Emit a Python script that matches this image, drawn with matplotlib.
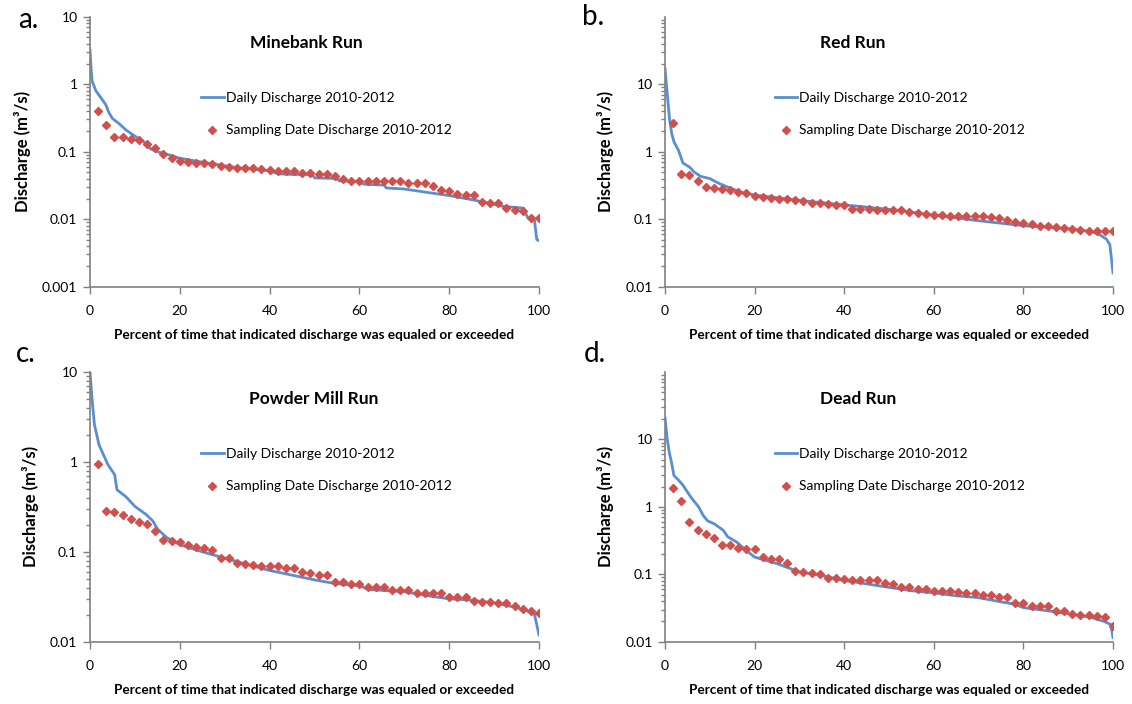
import numpy as np
import matplotlib
matplotlib.use('Agg')
import matplotlib.pyplot as plt
from matplotlib.ticker import FixedLocator, LogLocator, FuncFormatter, NullFormatter

plt.rcParams['font.family'] = ['Lato', 'DejaVu Sans']

# Daily flow duration curves (percent exceedance, discharge m3/s)
a_daily_x = [0, 0.3, 0.5, 1.3, 2.5, 3.5, 4.2, 5, 6.5, 8, 10, 12, 13.5, 15, 17.5, 20, 25, 32, 40, 42,
             45, 49.5, 50, 55, 55.5, 60, 61, 65.5, 66, 70, 75, 80, 85, 88, 92, 96.5, 97.5, 99, 99.5, 100]
a_daily_q = [3.2, 1.5, 1.1, 0.8, 0.62, 0.5, 0.38, 0.31, 0.26, 0.21, 0.17, 0.14, 0.11, 0.10, 0.09, 0.08,
             0.07, 0.059, 0.052, 0.047, 0.046, 0.046, 0.041, 0.040, 0.037, 0.036, 0.033, 0.032, 0.029,
             0.028, 0.025, 0.0224, 0.0195, 0.0178, 0.0155, 0.0146, 0.0105, 0.0095, 0.005, 0.0048]

b_daily_x = [0, 0.3, 1, 1.5, 2, 3, 4, 5.5, 6.5, 8, 10, 12, 14, 17, 20, 30, 40, 50, 60, 70, 80, 90, 95,
             97, 98.5, 99.3, 100]
b_daily_q = [17, 10, 3.1, 1.85, 1.4, 1.05, 0.68, 0.59, 0.5, 0.43, 0.40, 0.34, 0.30, 0.25, 0.228, 0.19,
             0.163, 0.14, 0.115, 0.095, 0.08, 0.072, 0.066, 0.059, 0.051, 0.042, 0.016]

c_daily_x = [0, 0.5, 1, 2, 3, 4, 5.5, 6, 8, 10, 12.5, 14, 15, 17, 20, 25, 30, 35, 40, 45, 50, 55, 60,
             62, 70, 76, 80, 85, 90, 95, 98, 99, 100]
c_daily_q = [10, 4.7, 2.58, 1.55, 1.2, 0.93, 0.72, 0.49, 0.41, 0.32, 0.26, 0.22, 0.18, 0.145, 0.12, 0.10,
             0.085, 0.0725, 0.062, 0.055, 0.0487, 0.044, 0.042, 0.038, 0.036, 0.032, 0.030, 0.029,
             0.027, 0.024, 0.0215, 0.020, 0.0119]

d_daily_x = [0, 0.5, 1, 1.5, 2, 3, 4, 5, 6, 7.5, 8.5, 9.5, 11, 13, 14, 16, 18, 20, 25, 30, 35, 40, 45,
             50, 55, 60, 65, 70, 75, 78, 80, 85, 90, 95, 98, 99.5, 100]
d_daily_q = [21, 10, 6.2, 4.4, 2.9, 2.5, 2.1, 1.66, 1.33, 1.0, 0.75, 0.62, 0.56, 0.45, 0.36, 0.30, 0.23,
             0.18, 0.144, 0.108, 0.096, 0.081, 0.072, 0.064, 0.057, 0.053, 0.048, 0.045, 0.039, 0.036,
             0.032, 0.029, 0.026, 0.023, 0.020, 0.018, 0.0115]

# Sampling date discharge, ranked high to low
a_samp = [0.40, 0.248, 0.164, 0.164, 0.155, 0.148, 0.128, 0.115, 0.094, 0.080, 0.074, 0.071, 0.068,
          0.068, 0.065, 0.062, 0.0595, 0.057, 0.057, 0.057, 0.056, 0.054, 0.051, 0.051, 0.051, 0.048,
          0.048, 0.046, 0.046, 0.043, 0.039, 0.037, 0.037, 0.037, 0.037, 0.037, 0.037, 0.037, 0.034,
          0.034, 0.034, 0.031, 0.0274, 0.0259, 0.0236, 0.0226, 0.0226, 0.0182, 0.0173, 0.0173, 0.0146,
          0.0136, 0.0132, 0.0103, 0.0103]
b_samp = [2.69, 0.464, 0.448, 0.369, 0.304, 0.29, 0.284, 0.271, 0.25, 0.245, 0.218, 0.211, 0.209, 0.2,
          0.2, 0.195, 0.188, 0.172, 0.172, 0.168, 0.164, 0.161, 0.143, 0.143, 0.141, 0.138, 0.137, 0.137,
          0.135, 0.126, 0.122, 0.118, 0.116, 0.115, 0.112, 0.112, 0.112, 0.11, 0.11, 0.108, 0.105, 0.097,
          0.0896, 0.0866, 0.0838, 0.08, 0.0784, 0.0764, 0.0747, 0.0722, 0.069, 0.0675, 0.0675, 0.0667,
          0.066]
c_samp = [0.948, 0.285, 0.274, 0.255, 0.23, 0.215, 0.204, 0.172, 0.134, 0.133, 0.129, 0.12, 0.113, 0.109,
          0.106, 0.086, 0.086, 0.075, 0.074, 0.0718, 0.0695, 0.069, 0.069, 0.066, 0.066, 0.060, 0.0575,
          0.0546, 0.0546, 0.046, 0.046, 0.0434, 0.0434, 0.0401, 0.0401, 0.0401, 0.0374, 0.0374, 0.0372,
          0.035, 0.035, 0.035, 0.035, 0.0318, 0.0318, 0.0318, 0.0287, 0.0277, 0.0275, 0.027, 0.027,
          0.0252, 0.0232, 0.0222, 0.0207]
d_samp = [1.91, 1.24, 0.596, 0.458, 0.40, 0.344, 0.274, 0.274, 0.248, 0.24, 0.24, 0.178, 0.17, 0.166,
          0.148, 0.111, 0.109, 0.104, 0.101, 0.0867, 0.0867, 0.085, 0.083, 0.083, 0.081, 0.081, 0.0747,
          0.0725, 0.065, 0.065, 0.060, 0.060, 0.057, 0.057, 0.057, 0.054, 0.0525, 0.052, 0.049, 0.049,
          0.046, 0.046, 0.0372, 0.0372, 0.0344, 0.0344, 0.0344, 0.029, 0.0284, 0.0261, 0.025, 0.0245,
          0.024, 0.0229, 0.0169]

titles = ['Minebank Run', 'Red Run', 'Powder Mill Run', 'Dead Run']
letters = ['a.', 'b.', 'c.', 'd.']
xticks = [0, 20, 40, 60, 80, 100]

BLUE = '#5a8fcf'
RED = '#d0504d'
AXC = '#808080'

W, H = 1132, 704
fig = plt.figure(figsize=(W / 100, H / 100), dpi=100)


def px_axes(left, top, right, bottom):
    return fig.add_axes([left / W, 1 - bottom / H, (right - left) / W, (bottom - top) / H])


def draw_panel(ax, dx, dq, samp, ylim, majors, title, title_pos, leg_pos):
    pct = 100.0 * np.arange(1, len(samp) + 1) / len(samp)
    ax.plot(dx, dq, color=BLUE, lw=2, label='Daily Discharge 2010-2012', zorder=2)
    ax.plot(pct, samp, ls='none', marker='D', ms=4.0, color=RED, mec=RED,
            label='Sampling Date Discharge 2010-2012', zorder=3)
    ax.set_yscale('log')
    ax.set_ylim(*ylim)
    ax.set_xlim(0, 100)
    ax.set_xticks(xticks)
    ax.yaxis.set_major_locator(FixedLocator(majors))
    ax.yaxis.set_minor_locator(LogLocator(base=10, subs=np.arange(2, 10)))
    ax.yaxis.set_major_formatter(FuncFormatter(lambda v, p: '%g' % v))
    ax.yaxis.set_minor_formatter(NullFormatter())
    for s in ['top', 'right']:
        ax.spines[s].set_visible(False)
    for s in ['left', 'bottom']:
        ax.spines[s].set_color(AXC)
        ax.spines[s].set_linewidth(1.2)
    ax.tick_params(axis='both', which='major', length=5, width=1, color=AXC, labelsize=10, pad=4)
    ax.tick_params(axis='y', which='minor', length=3, width=1, color=AXC)
    ax.tick_params(axis='x', pad=8)
    ax.set_ylabel('Discharge (m³/s)', fontsize=12, fontweight='bold', labelpad=8)
    ax.set_xlabel('Percent of time that indicated discharge was equaled or exceeded',
                  fontsize=9.8, fontweight='bold', labelpad=9)
    ax.text(title_pos[0], title_pos[1], title, transform=ax.transAxes, ha='center', va='center',
            fontsize=12.5, fontweight='bold')
    ax.legend(loc='upper left', bbox_to_anchor=leg_pos, frameon=False, fontsize=10,
              handlelength=1.6, handletextpad=0.15, labelspacing=1.45, borderpad=0, borderaxespad=0)


ax_a = px_axes(90, 16.7, 539, 286.7)
draw_panel(ax_a, a_daily_x, a_daily_q, a_samp, (0.001, 10), [0.001, 0.01, 0.1, 1, 10],
           titles[0], (0.481, 0.902), (0.248, 0.72))
ax_b = px_axes(665, 16.7, 1113, 286.7)
draw_panel(ax_b, b_daily_x, b_daily_q, b_samp, (0.01, 100), [0.01, 0.1, 1, 10],
           titles[1], (0.419, 0.902), (0.245, 0.72))
ax_c = px_axes(90, 372, 539, 641.7)
draw_panel(ax_c, c_daily_x, c_daily_q, c_samp, (0.01, 10), [0.01, 0.1, 1, 10],
           titles[2], (0.499, 0.9), (0.248, 0.717))
ax_d = px_axes(665, 372, 1113, 641.7)
draw_panel(ax_d, d_daily_x, d_daily_q, d_samp, (0.01, 100), [0.01, 0.1, 1, 10],
           titles[3], (0.43, 0.9), (0.245, 0.717))

# panel letters
for lab, (lx, ly) in zip(letters, [(18, 28), (582, 25), (16, 362), (584, 362)]):
    fig.text(lx / W, 1 - ly / H, lab, fontsize=20, ha='left', va='baseline')

fig.savefig('out.png', dpi=100)
